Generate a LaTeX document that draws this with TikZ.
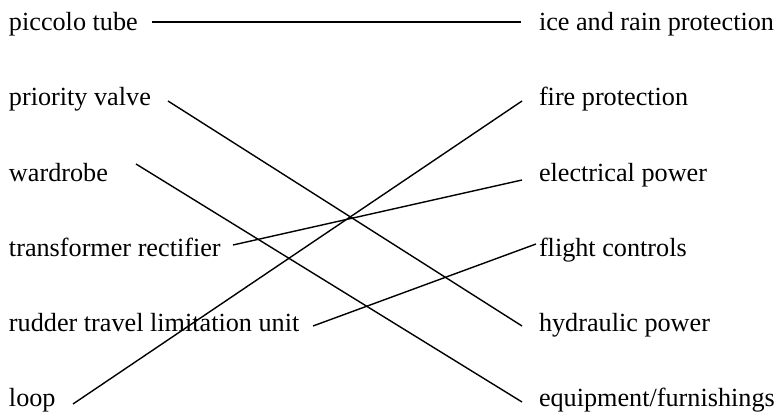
\documentclass[tikz,border=0pt]{standalone}
\usepackage{fontspec}
\setmainfont{Liberation Serif}
\begin{document}
\begin{tikzpicture}[x=1pt,y=-1pt,
  lbl/.style={inner sep=0pt,outer sep=0pt,font=\fontsize{26.2}{30}\selectfont},
  lft/.style={lbl,anchor=base west},
  rgt/.style={lbl,anchor=base west},
  conn/.style={draw=black,line width=1.4pt}]
\useasboundingbox (0,0) rectangle (777,414);
% left terms
\node[lft] (l1) at (9,30.7) {piccolo tube};
\node[lft] (l2) at (9,105.8) {priority valve};
\node[lft] (l3) at (9,181.2) {wardrobe};
\node[lft] (l4) at (9,256.4) {transformer rectifier};
\node[lft] (l5) at (9,331.6) {rudder travel limitation unit};
\node[lft] (l6) at (9,406.5) {loop};
% right terms
\node[rgt] (r1) at (539,30.7) {ice and rain protection};
\node[rgt] (r2) at (539,105.8) {fire protection};
\node[rgt] (r3) at (539,181.2) {electrical power};
\node[rgt] (r4) at (539,256.4) {flight controls};
\node[rgt] (r5) at (539,331.6) {hydraulic power};
\node[rgt] (r6) at (539,406.5) {equipment/furnishings};
% connector ends
\coordinate (a1) at (152,22);
\coordinate (b1) at (521,22);
\coordinate (a2) at (168,101);
\coordinate (b5) at (522,326);
\coordinate (a3) at (136,164);
\coordinate (b6) at (522,402);
\coordinate (a4) at (233,245);
\coordinate (b3) at (522,180);
\coordinate (a5) at (313,326);
\coordinate (b4) at (536,244);
\coordinate (a6) at (73,404);
\coordinate (b2) at (522,101);
% connectors
\draw[conn] (a1) -- (b1);
\draw[conn] (a2) -- (b5);
\draw[conn] (a3) -- (b6);
\draw[conn] (a4) -- (b3);
\draw[conn] (a5) -- (b4);
\draw[conn] (a6) -- (b2);
\end{tikzpicture}
\end{document}
